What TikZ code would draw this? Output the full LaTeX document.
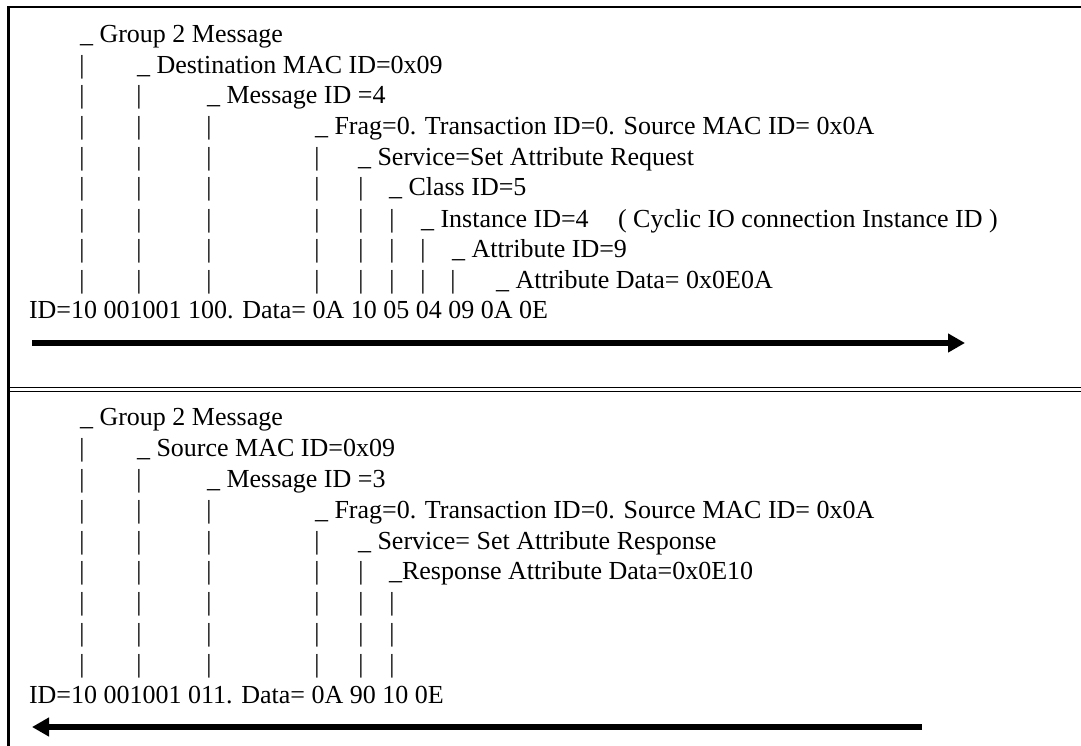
\documentclass[tikz,border=0pt]{standalone}
\usepackage{fontspec}
\setmainfont{Liberation Serif}
\usetikzlibrary{arrows.meta}
\begin{document}
\begin{tikzpicture}[x=1pt,y=-1pt,
  font=\fontsize{26pt}{30pt}\selectfont,
  txt/.style={anchor=base west, inner sep=0pt, outer sep=0pt},
  pipe/.style={anchor=base, inner sep=0pt, outer sep=0pt},
  frame/.style={line width=2.5pt, line cap=rect},
  sepline/.style={line width=1.2pt},
  bigarrow/.style={line width=6pt, -{Triangle[length=17pt,width=18pt]}}]
\useasboundingbox (0,0) rectangle (1081,746);
% frame
\draw[frame] (8.5,746) -- (8.5,7) -- (1081,7);
\draw[sepline] (8.5,387.6) -- (1081,387.6);
\draw[sepline] (8.5,391.2) -- (1081,391.2);
% ---------- top section ----------
\node[txt] (a1) at (80,43) {\_ Group 2 Message};
\node[txt] (a2) at (137,74) {\_ Destination MAC ID=0x09};
\node[txt] (a3) at (207,104) {\_ Message ID =4};
\node[txt] (a4) at (315,135) {\_ Frag=0. Transaction ID=0. Source MAC ID= 0x0A};
\node[txt] (a5) at (358,165.5) {\_ Service=Set Attribute Request};
\node[txt] (a6) at (389,196) {\_ Class ID=5};
\node[txt] (a7) at (421,227) {\_ Instance ID=4};
\node[txt] (a7b) at (618,227) {( Cyclic IO connection Instance ID )};
\node[txt] (a8) at (452,257) {\_ Attribute ID=9};
\node[txt] (a9) at (496,288) {\_ Attribute Data= 0x0E0A};
\node[txt] (a10) at (29,318) {ID=10 001001 100. Data= 0A 10 05 04 09 0A 0E};
\foreach \x [count=\i] in {82} \node[pipe] (pa2-\i) at (\x,74) {|};
\foreach \x [count=\i] in {82,139} \node[pipe] (pa3-\i) at (\x,104) {|};
\foreach \x [count=\i] in {82,139,209} \node[pipe] (pa4-\i) at (\x,135) {|};
\foreach \x [count=\i] in {82,139,209,317} \node[pipe] (pa5-\i) at (\x,165.5) {|};
\foreach \x [count=\i] in {82,139,209,317,361} \node[pipe] (pa6-\i) at (\x,196) {|};
\foreach \x [count=\i] in {82,139,209,317,361,392} \node[pipe] (pa7-\i) at (\x,227) {|};
\foreach \x [count=\i] in {82,139,209,317,361,392,423} \node[pipe] (pa8-\i) at (\x,257) {|};
\foreach \x [count=\i] in {82,139,209,317,361,392,423,453} \node[pipe] (pa9-\i) at (\x,288) {|};
\coordinate (ra) at (32,343);
\coordinate (rb) at (965,343);
\draw[bigarrow] (ra) -- (rb);
% ---------- bottom section ----------
\node[txt] (b1) at (80,425) {\_ Group 2 Message};
\node[txt] (b2) at (137,456) {\_ Source MAC ID=0x09};
\node[txt] (b3) at (207,487) {\_ Message ID =3};
\node[txt] (b4) at (315,518) {\_ Frag=0. Transaction ID=0. Source MAC ID= 0x0A};
\node[txt] (b5) at (358,549) {\_ Service= Set Attribute Response};
\node[txt] (b6) at (389,579.5) {\_Response Attribute Data=0x0E10};
\node[txt] (b10) at (29,703) {ID=10 001001 011. Data= 0A 90 10 0E};
\foreach \x [count=\i] in {82} \node[pipe] (pb2-\i) at (\x,456) {|};
\foreach \x [count=\i] in {82,139} \node[pipe] (pb3-\i) at (\x,487) {|};
\foreach \x [count=\i] in {82,139,209} \node[pipe] (pb4-\i) at (\x,518) {|};
\foreach \x [count=\i] in {82,139,209,317} \node[pipe] (pb5-\i) at (\x,549) {|};
\foreach \x [count=\i] in {82,139,209,317,361} \node[pipe] (pb6-\i) at (\x,579.5) {|};
\foreach \x [count=\i] in {82,139,209,317,361,392} \node[pipe] (pb7-\i) at (\x,610) {|};
\foreach \x [count=\i] in {82,139,209,317,361,392} \node[pipe] (pb8-\i) at (\x,641) {|};
\foreach \x [count=\i] in {82,139,209,317,361,392} \node[pipe] (pb9-\i) at (\x,672) {|};
\coordinate (la) at (922,727);
\coordinate (lb) at (32,727);
\draw[bigarrow] (la) -- (lb);
\end{tikzpicture}
\end{document}
